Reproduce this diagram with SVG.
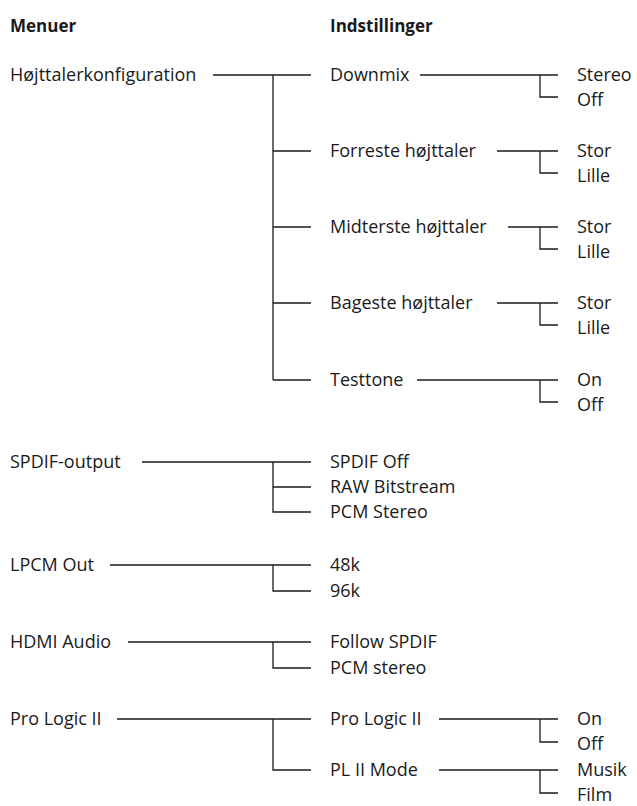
<svg xmlns="http://www.w3.org/2000/svg" width="637" height="806" viewBox="0 0 637 806">
<style>
text{font-family:"Open Sans","Noto Sans","Liberation Sans",sans-serif;font-size:18px;fill:#1a1a1a}
.h{font-weight:bold;font-size:17px}
#connectors line,#connectors polyline{stroke:#1a1a1a;stroke-width:1.3;fill:none}
</style>
<rect width="637" height="806" fill="#fff"/>
<g id="headers">
<text class="h" x="10" y="32">Menuer</text>
<text class="h" x="330" y="32">Indstillinger</text>
</g>
<g id="connectors">
<line x1="213" y1="75" x2="311" y2="75"/>
<line x1="273" y1="75" x2="273" y2="380"/>
<line x1="273" y1="151" x2="311" y2="151"/>
<line x1="273" y1="227" x2="311" y2="227"/>
<line x1="273" y1="303" x2="311" y2="303"/>
<line x1="273" y1="380" x2="311" y2="380"/>
<line x1="420" y1="75" x2="558" y2="75"/>
<polyline points="540,75 540,97 558,97"/>
<line x1="497" y1="151" x2="558" y2="151"/>
<polyline points="540,151 540,173 558,173"/>
<line x1="508" y1="227" x2="558" y2="227"/>
<polyline points="540,227 540,249 558,249"/>
<line x1="497" y1="303" x2="558" y2="303"/>
<polyline points="540,303 540,325 558,325"/>
<line x1="417" y1="380" x2="558" y2="380"/>
<polyline points="540,380 540,402 558,402"/>
<line x1="142" y1="462" x2="311" y2="462"/>
<polyline points="273,462 273,512 311,512"/>
<line x1="273" y1="487" x2="311" y2="487"/>
<line x1="110" y1="565" x2="311" y2="565"/>
<polyline points="273,565 273,591 311,591"/>
<line x1="128" y1="642" x2="311" y2="642"/>
<polyline points="273,642 273,668 311,668"/>
<line x1="117" y1="719" x2="311" y2="719"/>
<polyline points="273,719 273,770 311,770"/>
<line x1="439" y1="719" x2="558" y2="719"/>
<polyline points="540,719 540,742 558,742"/>
<line x1="439" y1="770" x2="558" y2="770"/>
<polyline points="540,770 540,793 558,793"/>
</g>
<g id="n-hojttaler"><text x="10" y="81">Højttalerkonfiguration</text></g>
<g id="n-downmix"><text x="330" y="81">Downmix</text></g>
<g id="n-downmix-stereo"><text x="577" y="81">Stereo</text></g>
<g id="n-downmix-off"><text x="577" y="106">Off</text></g>
<g id="n-forreste"><text x="330" y="157">Forreste højttaler</text></g>
<g id="n-forreste-stor"><text x="577" y="157">Stor</text></g>
<g id="n-forreste-lille"><text x="577" y="182">Lille</text></g>
<g id="n-midterste"><text x="330" y="233">Midterste højttaler</text></g>
<g id="n-midterste-stor"><text x="577" y="233">Stor</text></g>
<g id="n-midterste-lille"><text x="577" y="258">Lille</text></g>
<g id="n-bageste"><text x="330" y="309">Bageste højttaler</text></g>
<g id="n-bageste-stor"><text x="577" y="309">Stor</text></g>
<g id="n-bageste-lille"><text x="577" y="334">Lille</text></g>
<g id="n-testtone"><text x="330" y="386">Testtone</text></g>
<g id="n-testtone-on"><text x="577" y="386">On</text></g>
<g id="n-testtone-off"><text x="577" y="411">Off</text></g>
<g id="n-spdif"><text x="10" y="468">SPDIF-output</text></g>
<g id="n-spdif-off"><text x="330" y="468">SPDIF Off</text></g>
<g id="n-spdif-raw"><text x="330" y="493">RAW Bitstream</text></g>
<g id="n-spdif-pcm"><text x="330" y="518">PCM Stereo</text></g>
<g id="n-lpcm"><text x="10" y="571">LPCM Out</text></g>
<g id="n-lpcm-48"><text x="330" y="571">48k</text></g>
<g id="n-lpcm-96"><text x="330" y="597">96k</text></g>
<g id="n-hdmi"><text x="10" y="648">HDMI Audio</text></g>
<g id="n-hdmi-follow"><text x="330" y="648">Follow SPDIF</text></g>
<g id="n-hdmi-pcm"><text x="330" y="674">PCM stereo</text></g>
<g id="n-plii"><text x="10" y="725">Pro Logic II</text></g>
<g id="n-plii-sub"><text x="330" y="725">Pro Logic II</text></g>
<g id="n-plii-on"><text x="577" y="725">On</text></g>
<g id="n-plii-off"><text x="577" y="750">Off</text></g>
<g id="n-plii-mode"><text x="330" y="776">PL II Mode</text></g>
<g id="n-plii-musik"><text x="577" y="776">Musik</text></g>
<g id="n-plii-film"><text x="577" y="801">Film</text></g>
</svg>
